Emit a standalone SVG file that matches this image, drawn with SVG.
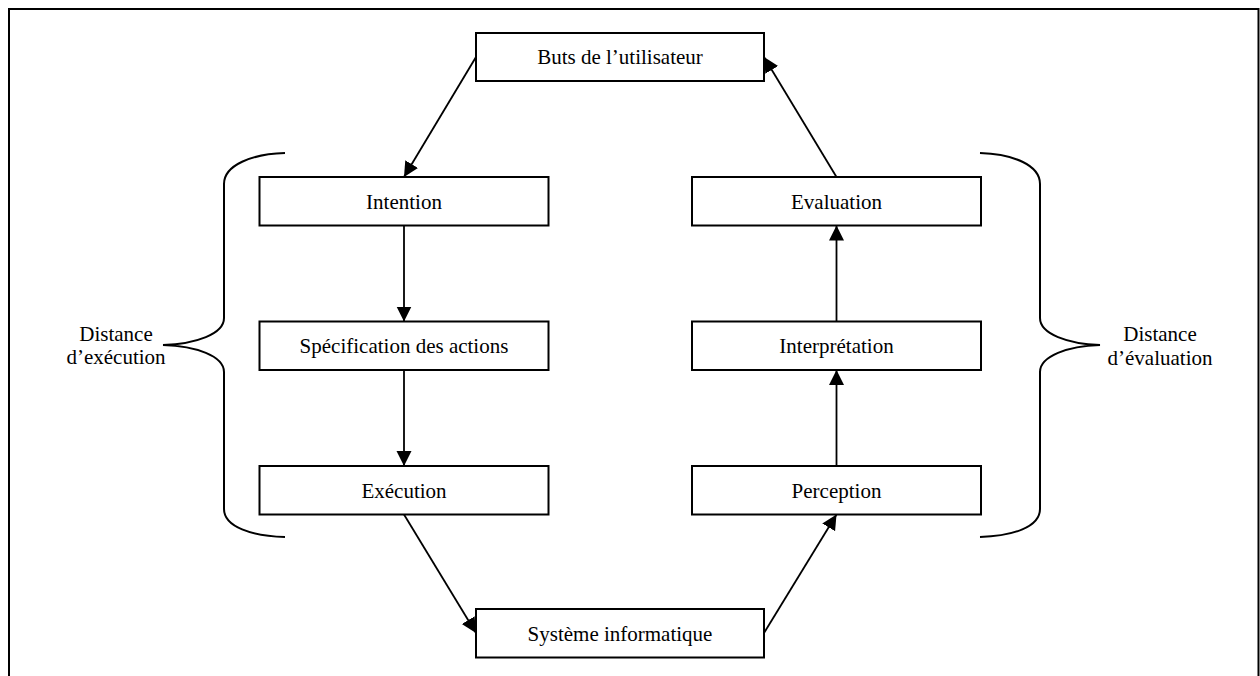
<svg xmlns="http://www.w3.org/2000/svg" width="1260" height="676" viewBox="0 0 1260 676">
  <style>
    .box { fill: #ffffff; stroke: #000000; stroke-width: 2; }
    .lbl { font-family: "Liberation Serif", "Times New Roman", serif; font-size: 21px; fill: #000000; text-anchor: middle; }
    .edge { fill: none; stroke: #000000; stroke-width: 1.8; }
    .brace { fill: none; stroke: #000000; stroke-width: 2; }
    .frame { fill: none; stroke: #000000; stroke-width: 2; }
  </style>
  <defs>
    <marker id="arrow" markerUnits="userSpaceOnUse" markerWidth="16" markerHeight="16" refX="15" refY="7.5" orient="auto">
      <path d="M0,0 L15,7.5 L0,15 Z" fill="#000000"/>
    </marker>
  </defs>

  <rect width="1260" height="676" fill="#ffffff"/>

  <!-- outer frame (open at the bottom) -->
  <path class="frame" d="M9,676 L9,9 L1258.5,9 L1258.5,676"/>

  <!-- connectors -->
  <g id="connectors">
    <line class="edge" x1="476" y1="57" x2="404" y2="177" marker-end="url(#arrow)"/>
    <line class="edge" x1="404" y1="225.5" x2="404" y2="321.5" marker-end="url(#arrow)"/>
    <line class="edge" x1="404" y1="370" x2="404" y2="466" marker-end="url(#arrow)"/>
    <line class="edge" x1="404" y1="514.5" x2="476" y2="633" marker-end="url(#arrow)"/>
    <line class="edge" x1="764" y1="633" x2="836.5" y2="514.5" marker-end="url(#arrow)"/>
    <line class="edge" x1="836.5" y1="466" x2="836.5" y2="370" marker-end="url(#arrow)"/>
    <line class="edge" x1="836.5" y1="321.5" x2="836.5" y2="225.5" marker-end="url(#arrow)"/>
    <line class="edge" x1="836.5" y1="177" x2="764" y2="57" marker-end="url(#arrow)"/>
  </g>

  <!-- braces -->
  <g id="brace-execution">
    <path class="brace" d="M285,153 C252,154 224,165 224,184 L224,318 C224,334 196,344 163,345 C196,346 224,356 224,372 L224,509 C224,527 252,536 285,537"/>
    <text class="lbl" x="116" y="341">Distance</text>
    <text class="lbl" x="116" y="364">d’exécution</text>
  </g>
  <g id="brace-evaluation">
    <path class="brace" d="M980,153 C1013,154 1040,165 1040,184 L1040,318 C1040,334 1068,344 1100,345 C1068,346 1040,356 1040,372 L1040,509 C1040,527 1013,536 980,537"/>
    <text class="lbl" x="1160" y="341">Distance</text>
    <text class="lbl" x="1160" y="365">d’évaluation</text>
  </g>

  <!-- nodes -->
  <g id="buts">
    <rect class="box" x="476" y="33" width="288" height="48"/>
    <text class="lbl" x="620" y="64">Buts de l’utilisateur</text>
  </g>
  <g id="intention">
    <rect class="box" x="259.5" y="177" width="289" height="48.5"/>
    <text class="lbl" x="404" y="208.5">Intention</text>
  </g>
  <g id="specification">
    <rect class="box" x="259.5" y="321.5" width="289" height="48.5"/>
    <text class="lbl" x="404" y="353">Spécification des actions</text>
  </g>
  <g id="execution">
    <rect class="box" x="259.5" y="466" width="289" height="48.5"/>
    <text class="lbl" x="404" y="497.5">Exécution</text>
  </g>
  <g id="systeme">
    <rect class="box" x="476" y="609" width="288" height="48.5"/>
    <text class="lbl" x="620" y="640.5">Système informatique</text>
  </g>
  <g id="perception">
    <rect class="box" x="692" y="466" width="289" height="48.5"/>
    <text class="lbl" x="836.5" y="497.5">Perception</text>
  </g>
  <g id="interpretation">
    <rect class="box" x="692" y="321.5" width="289" height="48.5"/>
    <text class="lbl" x="836.5" y="353">Interprétation</text>
  </g>
  <g id="evaluation">
    <rect class="box" x="692" y="177" width="289" height="48.5"/>
    <text class="lbl" x="836.5" y="208.5">Evaluation</text>
  </g>
</svg>
